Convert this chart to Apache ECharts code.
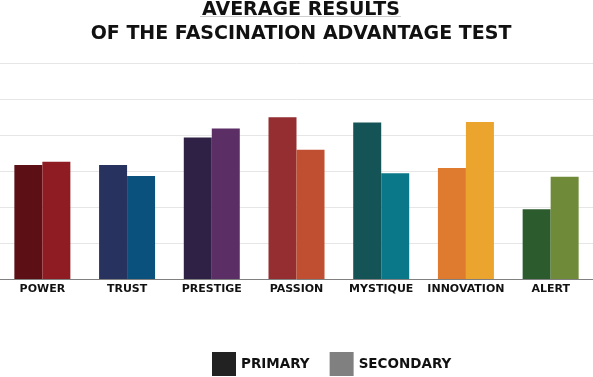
<!DOCTYPE html>
<html>
<head>
<meta charset="utf-8">
<script src="https://cdn.jsdelivr.net/npm/echarts@6/dist/echarts.min.js"></script>
<style>
html,body{margin:0;padding:0;background:#fff;}
#chart{width:593px;height:377px;}
</style>
</head>
<body>
<div id="chart"></div>
<script>
const categories = ['POWER','TRUST','PRESTIGE','PASSION','MYSTIQUE','INNOVATION','ALERT'];
const primaryValues = [3.17, 3.17, 3.93, 4.49, 4.35, 3.08, 1.94];
const secondaryValues = [3.26, 2.86, 4.18, 3.59, 2.94, 4.36, 2.84];
const seriesNames = ['PRIMARY','SECONDARY'];
const titleLines = ['AVERAGE RESULTS','OF THE FASCINATION ADVANTAGE TEST'];
const primaryColors = ['#5C1016','#27325E','#2F2145','#952E30','#145457','#DE7B2E','#2C5B2D'];
const secondaryColors = ['#8F1C22','#0B517E','#5C2E66','#C04F31','#0B788A','#EBA52F','#6F8A39'];
const legendColors = ['#222222','#808080'];

const FONT = '"DejaVu Sans", sans-serif';
const chart = echarts.init(document.getElementById('chart'), null, {renderer:'canvas'});
chart.setOption({
  animation:false,
  backgroundColor:'#ffffff',
  title:{
    text: titleLines.join('\n'),
    left:296,
    top:-6.5,
    textAlign:'center',
    textStyle:{fontFamily:FONT,fontWeight:'bold',fontSize:19,color:'#111111',lineHeight:23.5,align:'center'}
  },
  graphic:[{
    type:'line', shape:{x1:200,y1:16.5,x2:401,y2:16.5},
    style:{stroke:'#cfcfcf',lineWidth:1}, silent:true
  }],
  legend:{
    top:352,
    left:212,
    itemWidth:24,
    itemHeight:24,
    itemGap:20,
    icon:'rect',
    padding:0,
    textStyle:{fontFamily:FONT,fontWeight:'bold',fontSize:13.5,color:'#111111'},
    data:seriesNames
  },
  grid:{left:-1,width:597,top:63,bottom:98,containLabel:false},
  xAxis:{
    type:'category',
    data:categories,
    axisTick:{show:false},
    axisLine:{lineStyle:{color:'#808080',width:1}},
    axisLabel:{interval:0,fontFamily:FONT,fontWeight:'bold',fontSize:11,color:'#111111',margin:5}
  },
  yAxis:{
    type:'value',min:0,max:6,interval:1,
    axisLabel:{show:false},axisLine:{show:false},axisTick:{show:false},
    splitLine:{lineStyle:{color:'#e6e6e6',width:1}}
  },
  series:[
    {name:seriesNames[0],type:'bar',barWidth:28,barGap:'0%',color:legendColors[0],
     data:primaryValues.map((v,i)=>({value:v,itemStyle:{color:primaryColors[i]}}))},
    {name:seriesNames[1],type:'bar',barWidth:28,barGap:'0%',color:legendColors[1],
     data:secondaryValues.map((v,i)=>({value:v,itemStyle:{color:secondaryColors[i]}}))}
  ]
});
</script>
</body>
</html>
